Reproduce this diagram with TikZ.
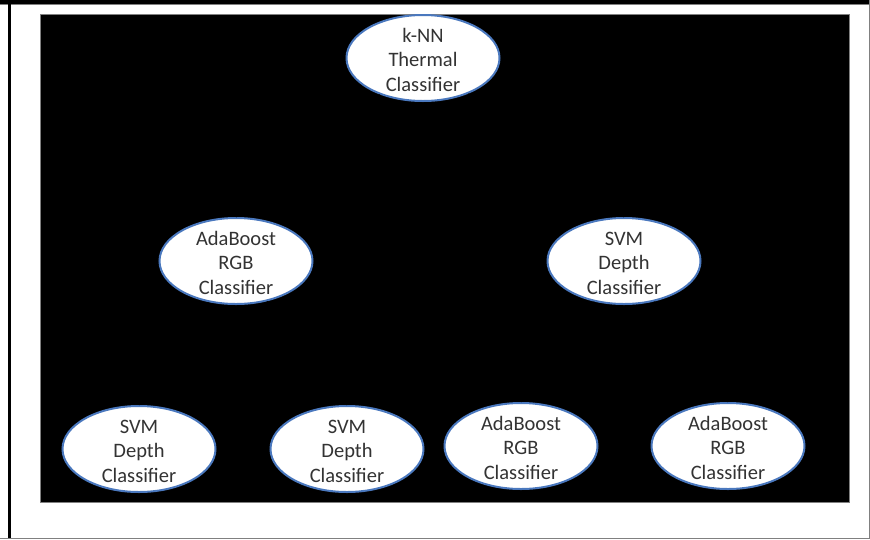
\documentclass[tikz,border=0pt]{standalone}
\usepackage{fontspec}
\setmainfont{Carlito}
\usetikzlibrary{shapes.geometric}
\definecolor{ringblue}{HTML}{4A78BE}
\definecolor{framegray}{HTML}{808080}
\newcommand\clftext[3]{\raisebox{-9pt}[0pt][0pt]{\begin{tabular}{@{}c@{}}#1\\#2\\#3\end{tabular}}}
\tikzset{
  clf/.style={ellipse, draw=ringblue, line width=2pt, fill=white,
    minimum width=153pt, minimum height=86pt, inner sep=0pt,
    text=black!80,
    font=\fontsize{20.5pt}{24.5pt}\selectfont},
  link/.style={draw=black, line width=1pt}
}
\begin{document}
\begin{tikzpicture}[x=1pt,y=-1pt]
\useasboundingbox (0,0) rectangle (870,539);
\fill[white] (0,0) rectangle (870,539);
% outer frame
\fill[black] (0,0) rectangle (870,4);
\draw[framegray, line width=1pt] (0,4.5) -- (870,4.5);
\fill[black] (8,0) rectangle (11,539);
\draw[framegray, line width=1pt] (0,538) -- (870,538);
\draw[framegray, line width=1pt] (869,0) -- (869,539);
% black panel
\fill[black] (40,14) rectangle (849,502);
\draw[framegray, line width=0.6pt] (40,14) rectangle (849,502);
% nodes
\node[clf] (root) at (423,58) {\clftext{k-NN}{Thermal}{Classifier}};
\node[clf] (l) at (236,261) {\clftext{AdaBoost}{RGB}{Classifier}};
\node[clf] (r) at (624,261) {\clftext{SVM}{Depth}{Classifier}};
\node[clf] (ll) at (139,449) {\clftext{SVM}{Depth}{Classifier}};
\node[clf] (lr) at (347,449) {\clftext{SVM}{Depth}{Classifier}};
\node[clf] (rl) at (521,446) {\clftext{AdaBoost}{RGB}{Classifier}};
\node[clf] (rr) at (728,446) {\clftext{AdaBoost}{RGB}{Classifier}};
% connectors (black on black, as in the reference)
\draw[link] (root) -- (l.north);
\draw[link] (root) -- (r.north);
\draw[link] (l) -- (ll.north);
\draw[link] (l) -- (lr.north);
\draw[link] (r) -- (rl.north);
\draw[link] (r) -- (rr.north);
\end{tikzpicture}
\end{document}
